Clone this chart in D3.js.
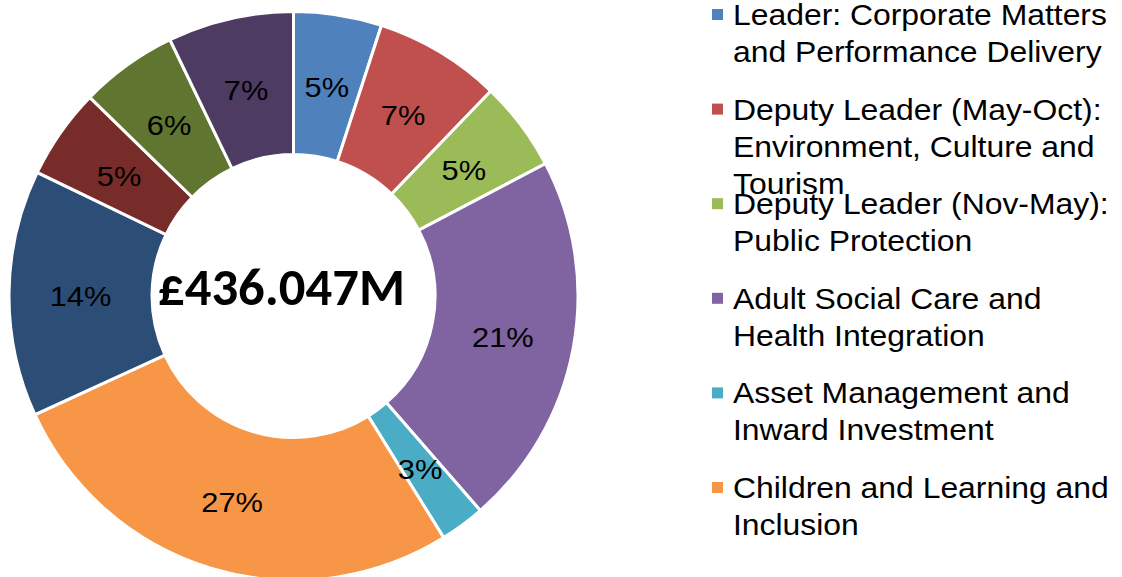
<!DOCTYPE html>
<html>
<head>
<meta charset="utf-8">
<script src="https://cdn.jsdelivr.net/npm/d3@7/dist/d3.min.js"></script>
<style>
  html, body { margin: 0; padding: 0; background: #fff; overflow: hidden; }
  svg { display: block; }
</style>
</head>
<body>
<svg id="chart" width="1122" height="577"></svg>
<script>
// ---- data ----
const categories = [
  "Leader: Corporate Matters and Performance Delivery",
  "Deputy Leader (May-Oct): Environment, Culture and Tourism",
  "Deputy Leader (Nov-May): Public Protection",
  "Adult Social Care and Health Integration",
  "Asset Management and Inward Investment",
  "Children and Learning and Inclusion",
  "Portfolio 7",
  "Portfolio 8",
  "Portfolio 9",
  "Portfolio 10"
];
const shares = [5.0, 7.2, 5.1, 21.3, 2.55, 27.0, 14.0, 5.15, 5.55, 7.15];
const colors = ["#4F81BD", "#C0504D", "#9BBB59", "#8064A2", "#4BACC6",
                "#F79646", "#2C4D75", "#772C2A", "#5F7530", "#4D3B62"];
const totalLabel = "£436.047M";

// ---- layout ----
const W = 1122, H = 577;
const cx = 293.5, cy = 296;
const rOuter = 284.5, rInner = 141.5;
const stretch = 1.1; // horizontal text stretch seen in the reference

const svg = d3.select("#chart");
const total = d3.sum(shares);
const data = categories.map((c, i) => ({ name: c, value: shares[i], color: colors[i] }));

const pie = d3.pie().value(d => d.value).sort(null).startAngle(0).endAngle(2 * Math.PI);
const arc = d3.arc().innerRadius(rInner).outerRadius(rOuter);
const arcs = pie(data);

const g = svg.append("g").attr("transform", `translate(${cx},${cy})`);

g.selectAll("path.slice")
  .data(arcs)
  .join("path")
  .attr("class", "slice")
  .attr("d", arc)
  .attr("fill", d => d.data.color)
  .attr("stroke", "#fff")
  .attr("stroke-width", 3)
  .attr("stroke-linejoin", "miter");

g.selectAll("text.pct")
  .data(arcs)
  .join("text")
  .attr("class", "pct")
  .attr("transform", d => {
    const [x, y] = arc.centroid(d);
    return `translate(${x},${y}) scale(${stretch},1)`;
  })
  .attr("text-anchor", "middle")
  .attr("dy", "0.42em")
  .style("font-family", "'Liberation Sans', Arial, sans-serif")
  .style("font-size", "28px")
  .attr("fill", "#000")
  .text(d => Math.round(d.data.value / total * 100) + "%");

// centre total
const centre = g.append("text")
  .attr("x", -12)
  .attr("y", 9)
  .attr("text-anchor", "middle")
  .style("font-family", "Carlito, Lato, 'Open Sans', sans-serif")
  .style("font-weight", "bold")
  .style("font-size", "46px")
  .attr("fill", "#000")
  .text(totalLabel);
{
  const targetW = 247;
  const w = centre.node().getComputedTextLength();
  if (w > 0) centre.style("font-size", (46 * targetW / w).toFixed(2) + "px");
}

// ---- legend ----
const legX = 733, legFirstBaseline = 25, legStep = 94.6, lineH = 37;
const legFont = 29, maxW = W - legX - 4;
const leg = svg.append("g").attr("class", "legend");

const measurer = svg.append("text")
  .style("font-family", "'Liberation Sans', Arial, sans-serif")
  .style("font-size", legFont + "px")
  .attr("visibility", "hidden");
function wrap(str) {
  const words = str.split(" ");
  const lines = [];
  let cur = "";
  for (const w of words) {
    const test = cur ? cur + " " + w : w;
    measurer.text(test);
    if (cur && measurer.node().getComputedTextLength() * stretch > maxW) {
      lines.push(cur);
      cur = w;
    } else cur = test;
  }
  if (cur) lines.push(cur);
  return lines;
}

data.forEach((d, i) => {
  const base = legFirstBaseline + i * legStep;
  if (base > H) return; // items beyond the picture are cut off, as in the reference
  leg.append("rect")
    .attr("x", 712).attr("y", base - 16)
    .attr("width", 11).attr("height", 11)
    .attr("fill", d.color);
  const lines = wrap(d.name);
  const t = leg.append("text")
    .attr("transform", `translate(${legX},${base}) scale(${stretch},1)`)
    .style("font-family", "'Liberation Sans', Arial, sans-serif")
    .style("font-size", legFont + "px")
    .attr("fill", "#000");
  lines.forEach((ln, j) => {
    t.append("tspan").attr("x", 0).attr("y", j * lineH).text(ln);
  });
});
measurer.remove();
</script>
</body>
</html>
